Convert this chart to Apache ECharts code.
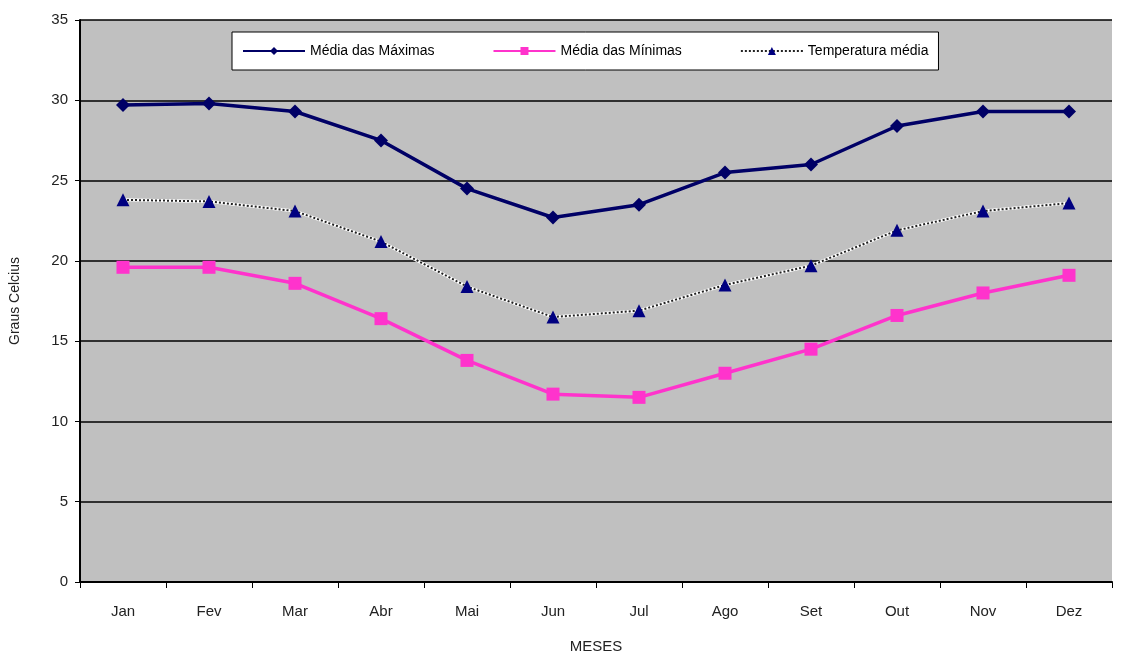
<!DOCTYPE html>
<html lang="pt-BR">
<head>
    <meta charset="UTF-8">
    <title>Temperaturas médias mensais</title>
    <script src="https://cdn.jsdelivr.net/npm/echarts/dist/echarts.min.js"></script>
    <style>
        html, body { margin: 0; padding: 0; background: #fff; }
        #chart { width: 1124px; height: 654px; }
    </style>
</head>
<body>
    <div id="chart"></div>

    <script type="text/javascript">
        // dados
        var meses = ['Jan', 'Fev', 'Mar', 'Abr', 'Mai', 'Jun', 'Jul', 'Ago', 'Set', 'Out', 'Nov', 'Dez'];
        var mediaMaximas = [29.7, 29.8, 29.3, 27.5, 24.5, 22.7, 23.5, 25.5, 26.0, 28.4, 29.3, 29.3];
        var mediaMinimas = [19.6, 19.6, 18.6, 16.4, 13.8, 11.7, 11.5, 13.0, 14.5, 16.6, 18.0, 19.1];
        var tempMedia = [23.8, 23.7, 23.1, 21.2, 18.4, 16.5, 16.9, 18.5, 19.7, 21.9, 23.1, 23.6];
        var yTicks = [0, 5, 10, 15, 20, 25, 30, 35];

        var chart = echarts.init(document.getElementById('chart'));
        var font = 'Liberation Sans, Arial, sans-serif';

        var option = {
            backgroundColor: '#fff',
            animation: false,
            textStyle: { fontFamily: font },
            grid: {
                left: 80, right: 12, top: 20, bottom: 72,
                containLabel: false,
                outerBoundsMode: 'none',
                show: true,
                backgroundColor: '#c0c0c0',
                borderWidth: 0
            },
            legend: {
                left: 232,
                top: 32,
                width: 720,
                padding: [12, 10, 12, 10],
                backgroundColor: '#fff',
                borderColor: '#000',
                borderWidth: 1,
                itemGap: 58,
                itemWidth: 62,
                itemHeight: 10,
                textStyle: { fontSize: 14, color: '#000', fontFamily: font },
                data: ['Média das Máximas', 'Média das Mínimas', 'Temperatura média']
            },
            xAxis: {
                type: 'category',
                data: meses,
                boundaryGap: true,
                name: 'MESES',
                nameLocation: 'middle',
                nameGap: 57,
                nameTextStyle: { fontSize: 15, color: '#222' },
                axisLine: { lineStyle: { color: '#000', width: 2 } },
                axisTick: { show: true, length: 6, lineStyle: { color: '#000' } },
                axisLabel: { fontSize: 15, color: '#222', margin: 22 },
                splitLine: { show: false }
            },
            yAxis: {
                type: 'value',
                min: yTicks[0],
                max: yTicks[yTicks.length - 1],
                interval: 5,
                name: 'Graus Celcius',
                nameLocation: 'middle',
                nameRotate: 90,
                nameGap: 58,
                nameTextStyle: { fontSize: 14, color: '#222' },
                axisLine: { show: true, lineStyle: { color: '#000', width: 2 } },
                axisTick: { show: true, length: 5, lineStyle: { color: '#000' } },
                axisLabel: { fontSize: 15, color: '#222', margin: 12 },
                splitLine: { show: true, lineStyle: { color: '#000', width: 1.5 } }
            },
            series: [
                {
                    name: 'Média das Máximas',
                    type: 'line',
                    data: mediaMaximas,
                    symbol: 'diamond',
                    symbolSize: 14,
                    itemStyle: { color: '#000066' },
                    lineStyle: { color: '#000066', width: 3.5 },
                    z: 4
                },
                {
                    name: 'Média das Mínimas',
                    type: 'line',
                    data: mediaMinimas,
                    symbol: 'rect',
                    symbolSize: 13,
                    itemStyle: { color: '#ff33cc' },
                    lineStyle: { color: '#ff33cc', width: 3.5 },
                    z: 4
                },
                {
                    // linha branca de fundo para o pontilhado
                    name: 'fundo',
                    type: 'line',
                    data: tempMedia,
                    symbol: 'none',
                    silent: true,
                    lineStyle: { color: '#fff', width: 3 },
                    z: 2
                },
                {
                    name: 'Temperatura média',
                    type: 'line',
                    data: tempMedia,
                    symbol: 'triangle',
                    symbolSize: 13,
                    itemStyle: { color: '#000080' },
                    lineStyle: { color: '#222', width: 2, type: [2, 2] },
                    z: 3
                }
            ]
        };

        chart.setOption(option);
    </script>
</body>
</html>
